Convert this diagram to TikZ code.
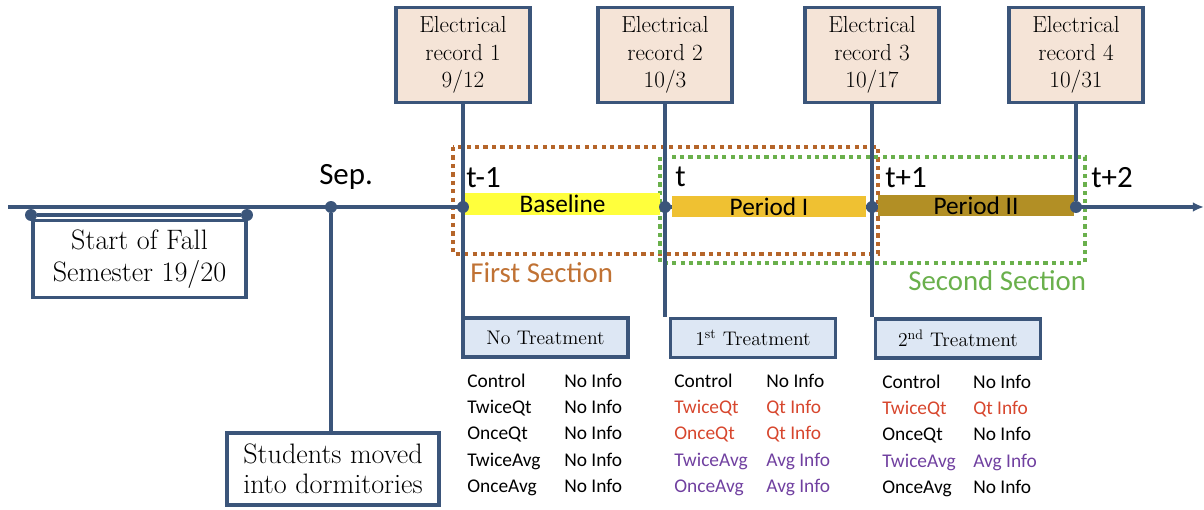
\documentclass[tikz,border=0pt]{standalone}
\usepackage{fontspec}
\usepackage{tikz}
\usetikzlibrary{arrows.meta}
\newfontfamily\calib{Carlito}
\definecolor{tlblue}{RGB}{59,85,122}
\definecolor{recfill}{RGB}{245,228,215}
\definecolor{treatfill}{RGB}{221,231,244}
\definecolor{basecol}{RGB}{255,255,60}
\definecolor{periodone}{RGB}{239,193,50}
\definecolor{periodtwo}{RGB}{178,143,37}
\definecolor{secone}{RGB}{181,101,42}
\definecolor{seconelab}{RGB}{192,114,52}
\definecolor{sectwo}{RGB}{106,176,76}
\definecolor{qtred}{RGB}{215,70,45}
\definecolor{avgpurple}{RGB}{112,64,160}
\newcommand{\qtrow}[1]{\textcolor{qtred}{#1}}
\newcommand{\avrow}[1]{\textcolor{avgpurple}{#1}}

\begin{document}
\begin{tikzpicture}[x=0.025cm, y=-0.025cm,
	box/.style={draw=tlblue, line width=2.4pt, align=center, inner sep=0,
		font=\fontsize{16.5}{19.5}\selectfont},
	record/.style={box, fill=recfill, minimum width=3.35cm, minimum height=2.375cm},
	treat/.style={box, fill=treatfill, minimum width=4.125cm, minimum height=0.975cm,
		font=\fontsize{14}{17}\selectfont},
	note/.style={box, fill=white, font=\fontsize{20}{22.5}\selectfont},
	dot/.style={circle, fill=tlblue, inner sep=0, minimum size=8.5pt},
	tline/.style={draw=tlblue, line width=2.4pt},
	bar/.style={inner sep=0, minimum height=0.54cm, minimum width=4.875cm,
		font=\calib\fontsize{18}{20}\selectfont},
	tlab/.style={anchor=base west, inner sep=0, font=\calib\fontsize{22}{24}\selectfont},
	seclab/.style={anchor=base west, inner sep=0, font=\calib\fontsize{20.5}{22}\selectfont},
	section/.style={line width=3pt, dash pattern=on 3pt off 3pt},
	grp/.style={anchor=north west, inner sep=0, font=\calib\fontsize{13.8}{18.6}\selectfont}]
	\useasboundingbox (0,0) rectangle (1204,510);
	%%
	\draw[section, secone] (453,147) rectangle (878,254);
	\draw[section, sectwo] (660,157) rectangle (1085,263);
	%%
	\node[record] (er1) at (463,55) {Electrical\\record 1\\9/12};
	\node[record] (er2) at (665,55) {Electrical\\record 2\\10/3};
	\node[record] (er3) at (872,55) {Electrical\\record 3\\10/17};
	\node[record] (er4) at (1076,55) {Electrical\\record 4\\10/31};
	%%
	\node[treat] (tr0) at (545.5,337.5) {No Treatment};
	\node[treat] (tr1) at (753,338) {1\textsuperscript{st} Treatment};
	\node[treat] (tr2) at (958,338.5) {2\textsuperscript{nd} Treatment};
	%%
	\node[note, minimum width=5.325cm, minimum height=1.925cm] (fall) at (139.5,259) {Start of Fall\\Semester 19/20};
	\node[note, minimum width=5.3cm, minimum height=1.8cm, font=\fontsize{20}{21.5}\selectfont] (moved) at (333,469) {Students moved\\into dormitories};
	%%
	\coordinate (tstart) at (8,207);
	\coordinate (tend) at (1204,207);
	\draw[tline, -{Latex[length=8pt,width=7pt]}] (tstart) -- (tend);
	%%
	\node[bar, fill=basecol] (base) at (562.5,204) {Baseline};
	\node[bar, fill=periodone, minimum width=4.85cm] (per1) at (769,206.5) {Period I};
	\node[bar, fill=periodtwo, minimum width=4.9cm] (per2) at (976,205.5) {Period II};
	%%
	\node[dot] (s1) at (31,215) {};
	\node[dot] (s2) at (247,215) {};
	\draw[tline] (s1) -- (s2);
	\node[dot] (sep) at (331,207) {};
	\draw[tline] (sep) -- (sep |- moved.north);
	%%
	\node[dot] (t1) at (er1 |- tstart) {};
	\node[dot] (t2) at (er2 |- tstart) {};
	\node[dot] (t3) at (er3 |- tstart) {};
	\node[dot] (t4) at (er4 |- tstart) {};
	\draw[tline] (er1.south) -- (er1.south |- tr0.north);
	\draw[tline] (er2.south) -- (er2.south |- tr1.north);
	\draw[tline] (er3.south) -- (er3.south |- tr2.north);
	\draw[tline] (er4.south) -- (t4);
	%%
	\node[tlab] (sepl) at (319,185) {Sep.};
	\node[tlab] (l1) at (466,188) {t-1};
	\node[tlab] (l2) at (675,187) {t};
	\node[tlab] (l3) at (885,188) {t+1};
	\node[tlab] (l4) at (1091,188) {t+2};
	\node[seclab, text=seconelab] (first) at (470,283) {First Section};
	\node[seclab, text=sectwo] (second) at (908,291) {Second Section};
	%%
	\node[grp] (g0) at (467,369) {\begin{tabular}{@{}p{69pt}@{}l@{}}
		Control & No Info\\ TwiceQt & No Info\\ OnceQt & No Info\\
		TwiceAvg & No Info\\ OnceAvg & No Info\end{tabular}};
	\node[grp] (g1) at (674,369) {\begin{tabular}{@{}p{65.5pt}@{}l@{}}
		Control & No Info\\ \qtrow{TwiceQt} & \qtrow{Qt Info}\\ \qtrow{OnceQt} & \qtrow{Qt Info}\\
		\avrow{TwiceAvg} & \avrow{Avg Info}\\ \avrow{OnceAvg} & \avrow{Avg Info}\end{tabular}};
	\node[grp] (g2) at (882,370) {\begin{tabular}{@{}p{64.7pt}@{}l@{}}
		Control & No Info\\ \qtrow{TwiceQt} & \qtrow{Qt Info}\\ OnceQt & No Info\\
		\avrow{TwiceAvg} & \avrow{Avg Info}\\ OnceAvg & No Info\end{tabular}};
\end{tikzpicture}
\end{document}
